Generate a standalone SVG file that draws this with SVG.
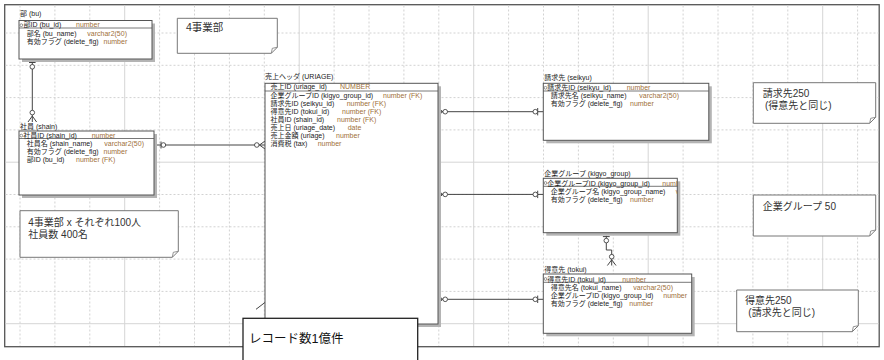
<svg xmlns="http://www.w3.org/2000/svg" width="884" height="360" viewBox="0 0 884 360">
<defs>
<style>
.t{font-family:'Liberation Sans','Noto Sans CJK JP',sans-serif;font-size:7px;fill:#222}
.ty{fill:#a0703a}
.nt{font-family:'Liberation Sans','Noto Sans CJK JP',sans-serif;font-size:10px;fill:#333}
.big{font-family:'Liberation Sans','Noto Sans CJK JP',sans-serif;font-size:12.5px;fill:#111}
.box{fill:#fff;stroke:#555;stroke-width:1}
.sh{fill:#b4b4b4}
.sep{stroke:#555;stroke-width:0.8}
.note{fill:#fff;stroke:#777;stroke-width:1}
.fold{fill:none;stroke:#777;stroke-width:0.8}
.cn{fill:none;stroke:#444;stroke-width:1}
.cc{fill:#fff;stroke:#444;stroke-width:0.9}
.key{fill:none;stroke:#666;stroke-width:0.7}
.gmin{fill:none;stroke:#d2d2d2;stroke-width:1;stroke-dasharray:2 2}
.gmaj{fill:none;stroke:#d6d6d6;stroke-width:1}
</style>
<clipPath id="clipK"><rect x="543.3" y="178.3" width="134" height="54.4"/></clipPath>
</defs>
<rect x="0" y="0" width="884" height="360" fill="#fff"/>
<rect x="4.7" y="4.7" width="874.5" height="342" fill="#fff" stroke="#555" stroke-width="1.3"/>
<g id="grid">
<path class="gmin" d="M20,5.5V346M54.9,5.5V346M89.8,5.5V346M159.6,5.5V346M194.5,5.5V346M229.4,5.5V346M264.3,5.5V346M334.1,5.5V346M369,5.5V346M403.9,5.5V346M438.8,5.5V346M508.6,5.5V346M543.5,5.5V346M578.4,5.5V346M613.3,5.5V346M683.1,5.5V346M718,5.5V346M752.9,5.5V346M787.8,5.5V346M857.6,5.5V346"/>
<path class="gmaj" d="M124.7,5.5V346M299.2,5.5V346M473.7,5.5V346M648.2,5.5V346M822.7,5.5V346"/>
<path class="gmin" d="M5.5,33H878.5M5.5,65.3H878.5M5.5,97.6H878.5M5.5,129.9H878.5M5.5,194.5H878.5M5.5,226.8H878.5M5.5,259.1H878.5M5.5,291.4H878.5"/>
<path class="gmaj" d="M5.5,162.2H878.5M5.5,323.7H878.5"/>
</g>

<g id="connectors">
<path class="cn" d="M32.3,59V122M29,62.5H35.6M32.3,116L28,122M32.3,116L36.6,122"/>
<circle class="cc" cx="32.3" cy="66.8" r="2.3"/>
<circle class="cc" cx="32.3" cy="112.6" r="2.3"/>
<path class="cn" d="M157,145H265M161,141.5V148.5M259.5,145L265,141M259.5,145L265,149"/>
<circle class="cc" cx="163.4" cy="145" r="2.3"/>
<circle class="cc" cx="256.8" cy="145" r="2.3"/>
<path class="cn" d="M441,111.7H543.3M442.7,111.7L438.5,108M442.7,111.7L438.5,115.4M537.7,108V115.4"/>
<circle class="cc" cx="445.2" cy="111.7" r="2.3"/>
<circle class="cc" cx="535.3" cy="111.7" r="2.3"/>
<path class="cn" d="M441,194.4H543.3M442.7,194.4L438.5,190.7M442.7,194.4L438.5,198.1M537.7,190.7V198.1"/>
<circle class="cc" cx="445.2" cy="194.4" r="2.3"/>
<circle class="cc" cx="535.3" cy="194.4" r="2.3"/>
<path class="cn" d="M441,299.3H543.3M442.7,299.3L438.5,295.6M442.7,299.3L438.5,303M537.7,295.6V303"/>
<circle class="cc" cx="445.2" cy="299.3" r="2.3"/>
<circle class="cc" cx="535.3" cy="299.3" r="2.3"/>
<path class="cn" d="M606.3,235.7V250H611.7V265.5M602.9,236.6H609.7M611.7,259.8L607.4,265.5M611.7,259.8L616,265.5"/>
<circle class="cc" cx="606.3" cy="240.6" r="2.3"/>
<circle class="cc" cx="611.7" cy="256.7" r="2.3"/>
<path class="cn" d="M256,309.3L285.7,286.7"/>
</g>

<g id="bu">
<text class="t" x="20" y="16.3">部 (bu)</text>
<rect class="sh" x="22" y="23.5" width="133" height="38.5"/>
<rect class="box" x="19" y="20.5" width="133" height="38.5"/>
<line class="sep" x1="19" y1="28" x2="152" y2="28"/>
<circle class="key" cx="21.3" cy="25.2" r="1.4"/>
<text class="t" x="23.5" y="27.3">部ID (bu_id)<tspan class="ty" x="76">number</tspan></text>
<text class="t" x="26.7" y="35.5">部名 (bu_name)<tspan class="ty" x="87.3">varchar2(50)</tspan></text>
<text class="t" x="26.7" y="43.5">有効フラグ (delete_flg)<tspan class="ty" x="103.5">number</tspan></text>
</g>

<g id="shain">
<text class="t" x="20" y="129">社員 (shain)</text>
<rect class="sh" x="22" y="134" width="135" height="64"/>
<rect class="box" x="19" y="131" width="135" height="64"/>
<line class="sep" x1="19" y1="138.5" x2="154" y2="138.5"/>
<circle class="key" cx="21.3" cy="135.6" r="1.4"/>
<text class="t" x="23.2" y="137.9">社員ID (shain_id)<tspan class="ty" x="91.7">number</tspan></text>
<text class="t" x="26.7" y="146.1">社員名 (shain_name)<tspan class="ty" x="104.3">varchar2(50)</tspan></text>
<text class="t" x="26.7" y="154.1">有効フラグ (delete_flg)<tspan class="ty" x="103.5">number</tspan></text>
<text class="t" x="26.7" y="162.1">部ID (bu_id)<tspan class="ty" x="76">number (FK)</tspan></text>
</g>

<g id="uriage">
<text class="t" x="265" y="79">売上ヘッダ (URIAGE)</text>
<rect class="sh" x="268" y="86.3" width="173" height="240.7"/>
<rect class="box" x="265" y="83.3" width="173" height="240.7"/>
<line class="sep" x1="265" y1="91" x2="438" y2="91"/>
<text class="t" x="270.5" y="89.4">売上ID (uriage_id)<tspan class="ty" x="340">NUMBER</tspan></text>
<text class="t" x="270.5" y="98">企業グループID (kigyo_group_id)<tspan class="ty" x="383">number (FK)</tspan></text>
<text class="t" x="270.5" y="106">請求先ID (seikyu_id)<tspan class="ty" x="346.7">number (FK)</tspan></text>
<text class="t" x="270.5" y="114">得意先ID (tokui_id)<tspan class="ty" x="342">number (FK)</tspan></text>
<text class="t" x="270.5" y="122">社員ID (shain_id)<tspan class="ty" x="337">number (FK)</tspan></text>
<text class="t" x="270.5" y="130">売上日 (uriage_date)<tspan class="ty" x="347.7">date</tspan></text>
<text class="t" x="270.5" y="138">売上金額 (uriage)<tspan class="ty" x="336">number</tspan></text>
<text class="t" x="270.5" y="146">消費税 (tax)<tspan class="ty" x="317.7">number</tspan></text>
</g>

<g id="seikyu">
<text class="t" x="544.3" y="79.6">請求先 (seikyu)</text>
<rect class="sh" x="546.3" y="86.3" width="165.5" height="57"/>
<rect class="box" x="543.3" y="83.3" width="165.5" height="57"/>
<line class="sep" x1="543.3" y1="91" x2="708.8" y2="91"/>
<circle class="key" cx="545.5" cy="87.8" r="1.4"/>
<text class="t" x="547.2" y="90">請求先ID (seikyu_id)<tspan class="ty" x="626.7">number</tspan></text>
<text class="t" x="550.7" y="98">請求先名 (seikyu_name)<tspan class="ty" x="639.3">varchar2(50)</tspan></text>
<text class="t" x="550.7" y="106">有効フラグ (delete_flg)<tspan class="ty" x="630">number</tspan></text>
</g>

<g id="kigyo_group">
<text class="t" x="544.3" y="176.3">企業グループ (kigyo_group)</text>
<rect class="sh" x="546.3" y="181.3" width="134" height="54.4"/>
<rect class="box" x="543.3" y="178.3" width="134" height="54.4"/>
<line class="sep" x1="543.3" y1="186.3" x2="677.3" y2="186.3"/>
<circle class="key" cx="545.5" cy="183" r="1.4"/>
<g clip-path="url(#clipK)">
<text class="t" x="547.2" y="185.5">企業グループID (kigyo_group_id)<tspan class="ty" x="662.3">number</tspan></text>
<text class="t" x="550.7" y="193.6">企業グループ名 (kigyo_group_name)<tspan class="ty" x="675.7">varchar2(50)</tspan></text>
</g>
<text class="t" x="550.7" y="201.6">有効フラグ (delete_flg)<tspan class="ty" x="630">number</tspan></text>
</g>

<g id="tokui">
<text class="t" x="544.3" y="272.3">得意先 (tokui)</text>
<rect class="sh" x="546.3" y="277" width="148.4" height="59.3"/>
<rect class="box" x="543.3" y="274" width="148.4" height="59.3"/>
<line class="sep" x1="543.3" y1="282.3" x2="691.7" y2="282.3"/>
<circle class="key" cx="545.5" cy="279" r="1.4"/>
<text class="t" x="547.2" y="281.5">得意先ID (tokui_id)<tspan class="ty" x="622.3">number</tspan></text>
<text class="t" x="550.7" y="289.6">得意先名 (tokui_name)<tspan class="ty" x="633.3">varchar2(50)</tspan></text>
<text class="t" x="550.7" y="297.6">企業グループID (kigyo_group_id)<tspan class="ty" x="663.3">number</tspan></text>
<text class="t" x="550.7" y="305.6">有効フラグ (delete_flg)<tspan class="ty" x="629.3">number</tspan></text>
</g>

<g id="note_jigyobu">
<path class="note" d="M177.3,18.3H277.3V47.3L271.3,53.3H177.3Z"/>
<path class="fold" d="M271.3,53.3L272.3,48.3L277.3,47.3"/>
<text class="nt" x="186" y="31" style="font-size:10.5px">4事業部</text>
</g>

<g id="note_shain">
<path class="note" d="M20,210.7H178.3V251.3L172.3,257.3H20Z"/>
<path class="fold" d="M172.3,257.3L173.3,252.3L178.3,251.3"/>
<text class="nt" x="28.3" y="226.3">4事業部 x それぞれ100人</text>
<text class="nt" x="28.3" y="238">社員数 400名</text>
</g>

<g id="note_seikyu">
<path class="note" d="M753.3,82.7H875.7V117.3L869.7,123.3H753.3Z"/>
<path class="fold" d="M869.7,123.3L870.7,118.3L875.7,117.3"/>
<text class="nt" x="762.7" y="96.8">請求先250</text>
<text class="nt" x="765" y="108.6">(得意先と同じ)</text>
</g>

<g id="note_kigyo">
<path class="note" d="M753.3,195H875.7V230L869.7,236H753.3Z"/>
<path class="fold" d="M869.7,236L870.7,231L875.7,230"/>
<text class="nt" x="762.7" y="209.6">企業グループ 50</text>
</g>

<g id="note_tokui">
<path class="note" d="M736.7,290H858.3V325.7L852.3,331.7H736.7Z"/>
<path class="fold" d="M852.3,331.7L853.3,326.7L858.3,325.7"/>
<text class="nt" x="745" y="303.6">得意先250</text>
<text class="nt" x="748.3" y="316.3">(請求先と同じ)</text>
</g>

<g id="note_record">
<rect x="243" y="318.3" width="174.7" height="50" fill="#fff" stroke="#222" stroke-width="1.3"/>
<text class="big" x="249" y="342.5">レコード数1億件</text>
</g>
</svg>
